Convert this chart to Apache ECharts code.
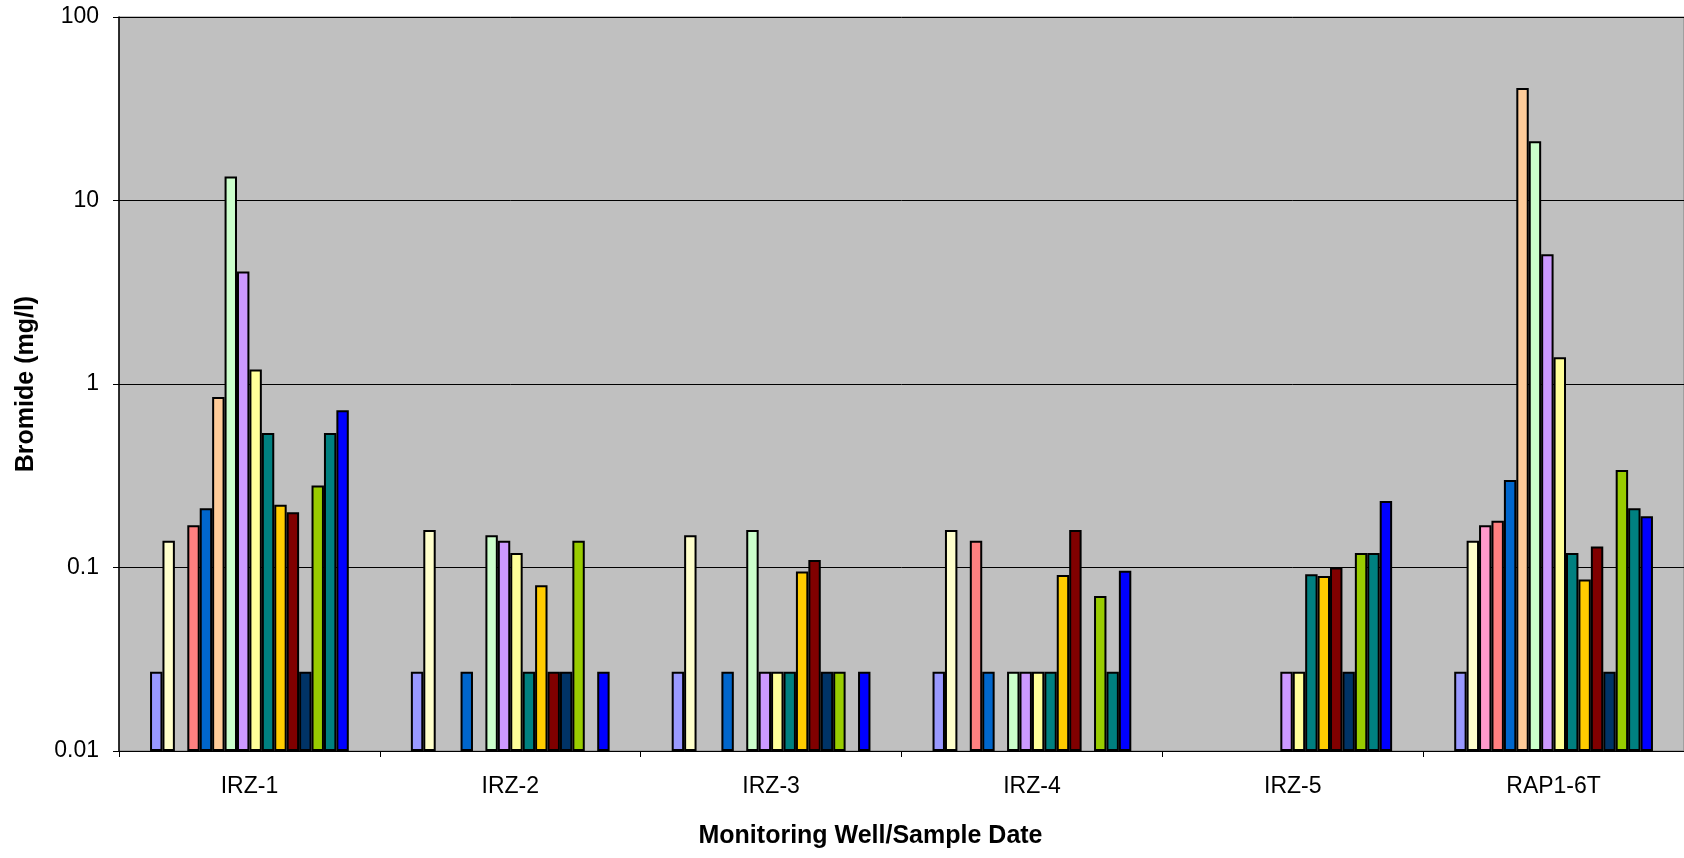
<!DOCTYPE html>
<html>
<head>
<meta charset="utf-8">
<script src="https://cdn.jsdelivr.net/npm/echarts@6/dist/echarts.min.js"></script>
<style>
  html, body { margin: 0; padding: 0; background: #fff; }
  #main { width: 1684px; height: 858px; }
</style>
</head>
<body>
<div id="main"></div>
<script>
// wells on the x axis
const wells = ['IRZ-1', 'IRZ-2', 'IRZ-3', 'IRZ-4', 'IRZ-5', 'RAP1-6T'];

// bromide (mg/l), one value per sample date, null = not sampled
const irz1 = [0.027, 0.14, null, 0.17, 0.21, 0.85, 13.5, 4.1, 1.2, 0.54, 0.22, 0.2, 0.027, 0.28, 0.54, 0.72];
const irz2 = [0.027, 0.16, null, null, 0.027, null, 0.15, 0.14, 0.12, 0.027, 0.08, 0.027, 0.027, 0.14, null, 0.027];
const irz3 = [0.027, 0.15, null, null, 0.027, null, 0.16, 0.027, 0.027, 0.027, 0.095, 0.11, 0.027, 0.027, null, 0.027];
const irz4 = [0.027, 0.16, null, 0.14, 0.027, null, 0.027, 0.027, 0.027, 0.027, 0.091, 0.16, null, 0.07, 0.027, 0.096];
const irz5 = [null, null, null, null, null, null, null, 0.027, 0.027, 0.092, 0.09, 0.1, 0.027, 0.12, 0.12, 0.23];
const rap16t = [0.027, 0.14, 0.17, 0.18, 0.3, 41, 21, 5.1, 1.4, 0.12, 0.086, 0.13, 0.027, 0.34, 0.21, 0.19];

const yTicks = [0.01, 0.1, 1, 10, 100];

// excel-ish palette, one per sample date
const colors = ['#9999FF', '#FFFFCC', '#FF99CC', '#FF8080', '#0066CC', '#FFCC99', '#CCFFCC', '#CC99FF',
                '#FFFF99', '#008080', '#FFCC00', '#800000', '#003366', '#99CC00', '#008080', '#0000FF'];

const byWell = [irz1, irz2, irz3, irz4, irz5, rap16t];

let mychart = echarts.init(document.getElementById('main'));

// one series per sample date
const series = colors.map((c, i) => ({
    name: 'Sample ' + (i + 1),
    type: 'bar',
    data: byWell.map(w => w[i] == null ? '-' : w[i]),
    barGap: '0%',
    barCategoryGap: '23.8%',
    itemStyle: { color: c, borderColor: '#000', borderWidth: 2 }
}));

const option = {
    animation: false,
    textStyle: { fontFamily: 'Liberation Sans, Arial, sans-serif' },
    grid: {
        left: 119, right: 0, top: 17, bottom: 107,
        show: true,
        backgroundColor: '#C0C0C0',
        borderColor: '#808080',
        borderWidth: 1
    },
    xAxis: {
        type: 'category',
        data: wells,
        name: 'Monitoring Well/Sample Date',
        nameLocation: 'middle',
        nameGap: 73,
        // title sits a bit left of the plot centre in the original
        nameTextStyle: { fontSize: 25, fontWeight: 'bold', color: '#000', padding: [0, 62, 0, 0] },
        axisLine: { lineStyle: { color: '#000', width: 1 } },
        axisTick: { show: true, length: 6, lineStyle: { color: '#000' } },
        axisLabel: { fontSize: 23, color: '#000', margin: 24 }
    },
    yAxis: {
        type: 'log',
        logBase: 10,
        min: 0.01,
        max: 100,
        startValue: 0.01,
        name: 'Bromide (mg/l)',
        nameLocation: 'middle',
        nameGap: 80,
        nameTextStyle: { fontSize: 25, fontWeight: 'bold', color: '#000' },
        axisLine: { show: true, lineStyle: { color: '#000', width: 1.5 } },
        axisTick: { show: true, length: 6, lineStyle: { color: '#000' } },
        axisLabel: {
            fontSize: 23, color: '#000', margin: 20,
            formatter: v => {
                const hit = yTicks.find(t => Math.abs(t - v) / t < 1e-6);
                return hit != null ? String(hit) : '';
            }
        },
        splitLine: { show: true, lineStyle: { color: '#000', width: 1 } }
    },
    series: series
};

mychart.setOption(option);
</script>
</body>
</html>
